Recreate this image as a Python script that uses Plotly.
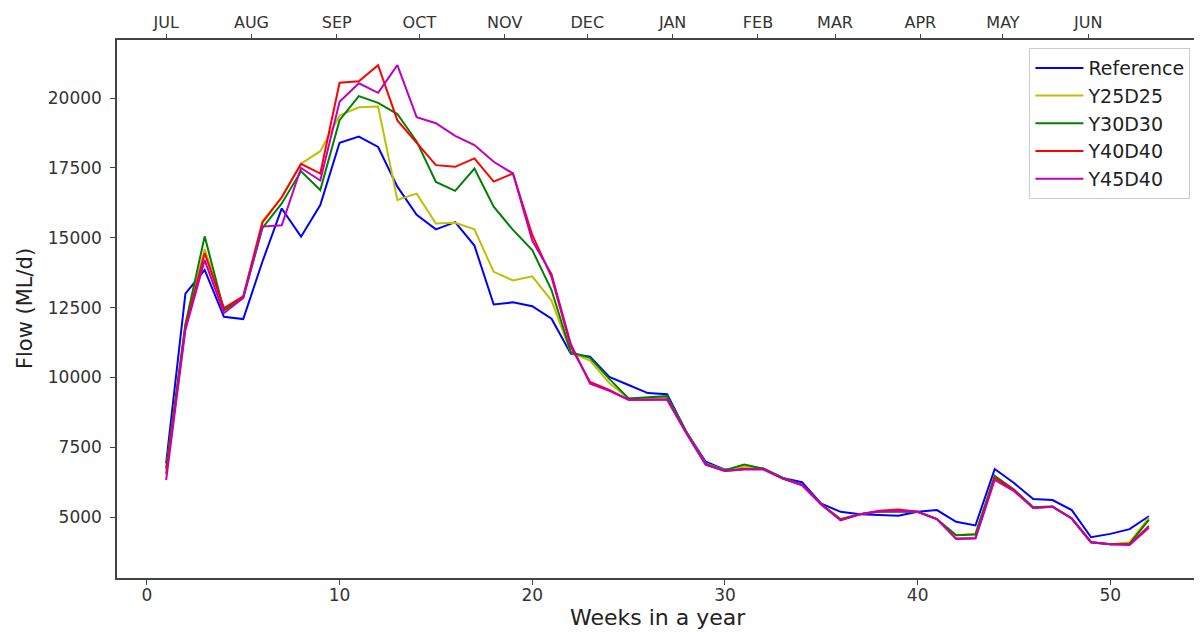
import plotly.graph_objects as go

weeks = list(range(1, 53))

reference = [6920, 13000, 13850, 12170, 12090, 14150, 16050, 15040, 16170, 18400,
             18620, 18250, 16830, 15820, 15300, 15560, 14720, 12610, 12690, 12550,
             12100, 10850, 10740, 10020, 9730, 9440, 9400, 8050, 6980, 6700,
             6750, 6740, 6400, 6250, 5480, 5190, 5100, 5070, 5050, 5190,
             5250, 4830, 4700, 6720, 6220, 5650, 5610, 5250, 4280, 4400,
             4570, 5030]
y25d25 = [6700, 11900, 14600, 12450, 12900, 15600, 16450, 17650, 18100, 19380,
          19670, 19700, 16350, 16580, 15510, 15540, 15300, 13780, 13470, 13620,
          12750, 10900, 10600, 9800, 9250, 9250, 9300, 8050, 6920, 6690,
          6800, 6730, 6400, 6150, 5460, 4930, 5100, 5200, 5230, 5190,
          4930, 4350, 4400, 6450, 6000, 5350, 5380, 4950, 4100, 4030,
          4100, 4980]
y30d30 = [6750, 11900, 15050, 12400, 12850, 15350, 16230, 17380, 16710, 19210,
          20070, 19830, 19430, 18450, 17000, 16680, 17480, 16110, 15280, 14560,
          13130, 10900, 10700, 9950, 9250, 9280, 9330, 8050, 6900, 6680,
          6880, 6730, 6400, 6150, 5460, 4920, 5100, 5200, 5200, 5190,
          4930, 4350, 4380, 6480, 5980, 5350, 5380, 4950, 4100, 4030,
          4050, 4900]
y40d40 = [6550, 11800, 14450, 12480, 12900, 15550, 16450, 17650, 17300, 20550,
          20600, 21180, 19200, 18400, 17600, 17540, 17840, 17010, 17300, 15100,
          13600, 11100, 9840, 9550, 9200, 9200, 9220, 8000, 6880, 6650,
          6720, 6720, 6380, 6150, 5450, 4900, 5100, 5230, 5270, 5190,
          4930, 4230, 4250, 6400, 5970, 5330, 5370, 4950, 4100, 4030,
          4020, 4680]
y45d40 = [6320, 11700, 14200, 12300, 12850, 15400, 15450, 17500, 17050, 19870,
          20530, 20190, 21180, 19320, 19100, 18650, 18320, 17720, 17300, 14900,
          13700, 11200, 9780, 9520, 9200, 9200, 9200, 8000, 6880, 6650,
          6700, 6700, 6380, 6150, 5450, 4880, 5100, 5200, 5220, 5190,
          4930, 4220, 4230, 6330, 5930, 5330, 5370, 4950, 4100, 4030,
          4000, 4620]

series_names = ["Reference", "Y25D25", "Y30D30", "Y40D40", "Y45D40"]
series_values = [reference, y25d25, y30d30, y40d40, y45d40]
series_colors = ["#0000ff", "#bfbf00", "#008000", "#ff0000", "#bf00bf"]

month_names = ["JUL", "AUG", "SEP", "OCT", "NOV", "DEC", "JAN", "FEB", "MAR", "APR", "MAY", "JUN"]
month_days = [31, 31, 30, 31, 30, 31, 31, 28, 31, 30, 31, 30]

x_tick_vals = [0, 10, 20, 30, 40, 50]
y_tick_vals = [5000, 7500, 10000, 12500, 15000, 17500, 20000]

# month start positions in week units (week 1 starts 1 July)
month_pos = []
acc = 0
for d in month_days:
    month_pos.append(acc / 7 + 1)
    acc += d

fig = go.Figure()
for name, vals, col in zip(series_names, series_values, series_colors):
    fig.add_trace(go.Scatter(x=weeks, y=vals, mode="lines", name=name,
                             line=dict(color=col, width=2)))

axis_col = "#444444"
font_family = "DejaVu Sans"
xr = [-1.55, 54.55]

# page body has an 8px default margin, so the figure is sized to fit the window
fig.update_layout(
    width=1194, height=624,
    margin=dict(l=109, r=4, t=32, b=54),
    paper_bgcolor="white", plot_bgcolor="white",
    font=dict(family=font_family, color="#222222", size=17),
    showlegend=True,
    legend=dict(x=0.993, y=0.985, xanchor="right", yanchor="top",
                bgcolor="rgba(255,255,255,0.8)", bordercolor="#cccccc", borderwidth=1,
                itemwidth=48,
                font=dict(size=19, family=font_family, color="#222222")),
    xaxis=dict(range=xr, tickvals=x_tick_vals, showgrid=False, zeroline=False,
               automargin=False,
               showline=True, linecolor=axis_col, linewidth=1.5, mirror=True,
               ticks="outside", ticklen=5, tickcolor=axis_col, tickwidth=1,
               ticklabelstandoff=-4,
               tickfont=dict(size=17, color="#333333")),
    xaxis2=dict(range=xr, overlaying="x", side="top", anchor="y", automargin=False,
                tickvals=month_pos, ticktext=month_names, showgrid=False, zeroline=False,
                showline=False, ticks="outside", ticklen=5, tickcolor=axis_col, tickwidth=1,
                tickfont=dict(size=16, color="#333333")),
    yaxis=dict(range=[2820, 22080], tickvals=y_tick_vals, tickformat="d",
               showgrid=False, zeroline=False, automargin=False,
               showline=True, linecolor=axis_col, linewidth=1.5, mirror=True,
               ticks="outside", ticklen=5, tickcolor=axis_col, tickwidth=1,
               ticklabelstandoff=5,
               tickfont=dict(size=17, color="#333333")),
    annotations=[
        dict(text="Weeks in a year", xref="paper", yref="paper", x=0.5, y=-0.073,
             xanchor="center", yanchor="middle", showarrow=False,
             font=dict(size=22, color="#222222", family=font_family)),
        dict(text="Flow (ML/d)", xref="paper", yref="paper", x=-0.085, y=0.5,
             xanchor="center", yanchor="middle", textangle=-90, showarrow=False,
             font=dict(size=21, color="#222222", family=font_family)),
    ],
)

# invisible helper trace so the top month axis is drawn
fig.add_trace(go.Scatter(x=month_pos, y=[None] * len(month_pos), xaxis="x2", yaxis="y",
                         mode="lines", showlegend=False, hoverinfo="skip"))

fig.write_html("out.html")
